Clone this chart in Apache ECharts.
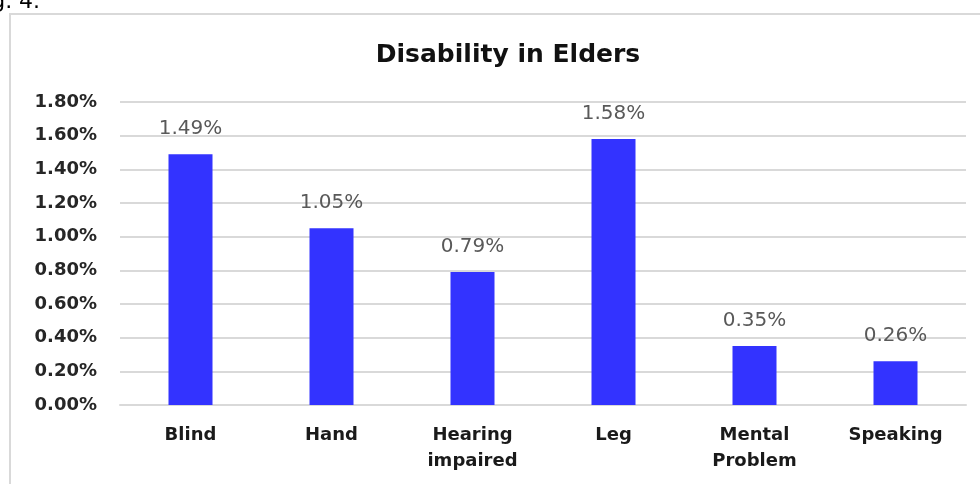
<!DOCTYPE html>
<html><head><meta charset="utf-8">
<script src="https://cdn.jsdelivr.net/npm/echarts@6/dist/echarts.min.js"></script>
<style>html,body{margin:0;padding:0;background:#fff;}#c{width:980px;height:484px;}</style>
</head><body><div id="c"></div>
<script>
const categories = ['Blind', 'Hand', 'Hearing\nimpaired', 'Leg', 'Mental\nProblem', 'Speaking'];
const values = [1.49, 1.05, 0.79, 1.58, 0.35, 0.26];
const yTicks = { min: 0, max: 1.8, interval: 0.2 };
const titleText = 'Disability in Elders';
const captionText = 'Fig. 4.';

const chart = echarts.init(document.getElementById('c'), null, { renderer: 'canvas' });
const font = '"DejaVu Sans", sans-serif';
chart.setOption({
  animation: false,
  backgroundColor: '#fff',
  title: {
    text: titleText, left: 503, top: 38, textAlign: 'center',
    textStyle: { fontFamily: font, fontSize: 25, fontWeight: 'bold', color: '#111' }
  },
  graphic: [
    { type: 'rect', shape: { x: 10, y: 14, width: 1000, height: 500 },
      style: { fill: 'none', stroke: '#d9d9d9', lineWidth: 2 } },
    { type: 'text', left: -26, top: -9,
      style: { text: captionText, font: '22px "DejaVu Sans", sans-serif', fill: '#000' } }
  ],
  grid: { left: 120, right: 14, top: 102, bottom: 79 },
  xAxis: {
    type: 'category', data: categories,
    axisLine: { lineStyle: { color: '#d9d9d9', width: 2 } },
    axisTick: { show: false },
    axisLabel: { fontFamily: font, fontSize: 18, fontWeight: 'bold', color: '#1a1a1a', margin: 17, lineHeight: 26, interval: 0 }
  },
  yAxis: {
    type: 'value', min: yTicks.min, max: yTicks.max, interval: yTicks.interval,
    axisLine: { show: false }, axisTick: { show: false },
    splitLine: { lineStyle: { color: '#d9d9d9', width: 2 } },
    axisLabel: { fontFamily: font, fontSize: 18, fontWeight: 'bold', color: '#262626', margin: 23,
      formatter: v => v.toFixed(2) + '%' }
  },
  series: [{
    type: 'bar', data: values, barWidth: 44,
    itemStyle: { color: '#3333FF' },
    label: { show: true, position: 'top', distance: 15, fontFamily: font, fontSize: 20, color: '#595959',
      formatter: p => p.value.toFixed(2) + '%' }
  }]
});
</script></body></html>
